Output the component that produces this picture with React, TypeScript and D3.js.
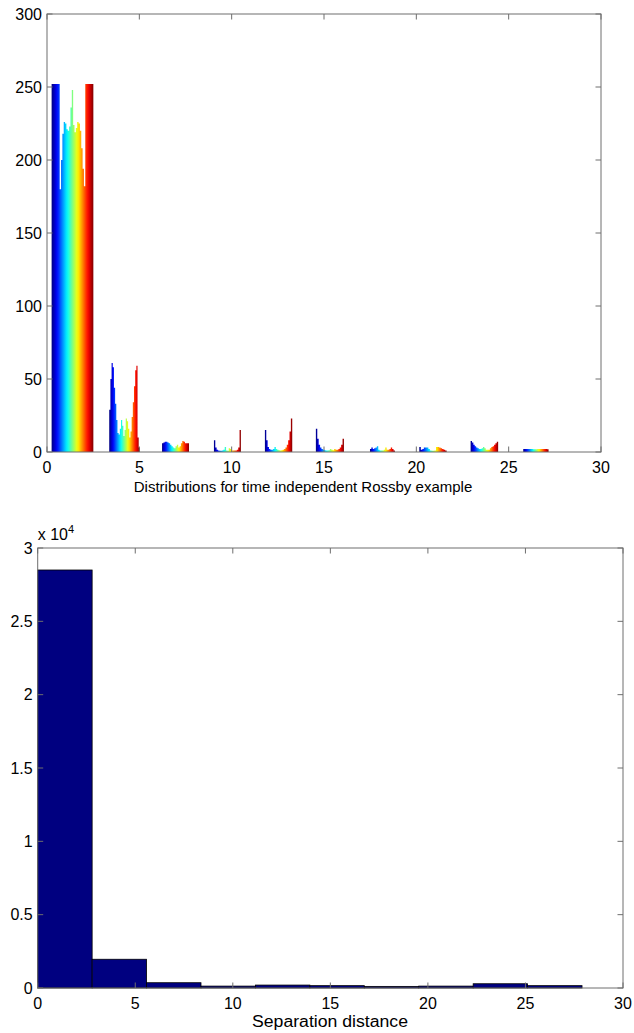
import React from "react";
import * as d3 from "d3";

// top panel: one coloured distribution per separation band
const clusterStarts = [0.25, 3.37, 6.23, 9.04, 11.8, 14.56, 17.49, 20.16, 22.94, 25.79];
const clusterEnds = [2.51, 5.03, 7.69, 10.5, 13.28, 16.08, 18.84, 21.64, 24.43, 27.16];
const band1 = [252, 252, 252, 252, 252, 252, 180, 200, 218, 226, 225, 221, 220, 223, 236, 248, 224, 219, 222, 226, 225, 220, 208, 194, 182, 252, 252, 252, 252, 252, 252];
const band2 = [29, 50, 61, 58, 44, 33, 22, 13, 12, 16, 22, 18, 11, 15, 23, 21, 16, 10, 14, 24, 34, 45, 56, 59, 10, 3];
const band3 = [6, 6.5, 7, 7, 6.5, 6, 5, 4, 3, 2.5, 4, 5, 3, 4, 6, 7.5, 7, 6, 6, 6];
const band4 = [8, 3, 1.5, 1, 0.8, 0.8, 1, 1.5, 3.5, 1, 0.8, 2.5, 2, 1, 1, 1, 1, 1.5, 3, 15];
const band5 = [15, 8, 3.5, 2, 1.5, 1.5, 2, 3.5, 2, 1.5, 1.2, 1, 1.2, 1.5, 2, 3, 5, 8, 14, 23];
const band6 = [16, 9, 5, 3, 2, 1.5, 1.2, 1, 1, 1.2, 2, 1.5, 1.2, 2, 1.5, 1.5, 2, 3, 5, 9];
const band7 = [2, 3, 2, 2.5, 3, 4, 1.5, 1, 1, 1, 1.5, 3, 1.5, 1.5, 2, 3, 2, 1];
const band8 = [3.5, 1.5, 2, 3, 3, 3, 2, 1, 0.8, 0.8, 1, 3.5, 3.5, 3, 2.5, 2, 1.5, 1];
const band9 = [7.5, 6.5, 5, 4, 3, 2.5, 2, 2, 2.5, 3.5, 2.5, 1.5, 1.5, 1.5, 2.5, 3.5, 4, 5, 6, 7];
const band10 = [2, 2, 2, 2, 2, 2, 2, 1.8, 1.8, 1.8, 2, 2, 2, 2, 2, 2, 2, 1.8];
const bands = [band1, band2, band3, band4, band5, band6, band7, band8, band9, band10];
const topXTicks = [0, 5, 10, 15, 20, 25, 30];
const topYTicks = [0, 50, 100, 150, 200, 250, 300];

// bottom panel: histogram of separation distance
const binEdges = [0, 2.79, 5.58, 8.37, 11.16, 13.95, 16.74, 19.53, 22.32, 25.11, 27.9];
const binCounts = [28500, 1960, 360, 130, 200, 160, 110, 130, 290, 160];
const botXTicks = [0, 5, 10, 15, 20, 25, 30];
const botYTicks = [0, 0.5, 1, 1.5, 2, 2.5, 3];

const jet = (t: number) => {
  const c = (v: number) => Math.round(255 * Math.max(0, Math.min(1, v)));
  return `rgb(${c(1.5 - Math.abs(4 * t - 3))},${c(1.5 - Math.abs(4 * t - 2))},${c(1.5 - Math.abs(4 * t - 1))})`;
};

const axisColor = "#6e6e6e";
const font = "Liberation Sans, Arial, sans-serif";
const tickLen = 5.5;

type Box = { left: number; right: number; top: number; bottom: number };

const Frame = ({ box, x, y, xTicks, yTicks, yFmt }: any) => (
  <g stroke={axisColor} strokeWidth={1}>
    <rect x={box.left} y={box.top} width={box.right - box.left} height={box.bottom - box.top} fill="none" />
    {xTicks.map((t: number) => (
      <g key={"x" + t}>
        <line x1={x(t)} x2={x(t)} y1={box.bottom} y2={box.bottom - tickLen} />
        <line x1={x(t)} x2={x(t)} y1={box.top} y2={box.top + tickLen} />
      </g>
    ))}
    {yTicks.map((t: number) => (
      <g key={"y" + t}>
        <line x1={box.left} x2={box.left + tickLen} y1={y(t)} y2={y(t)} />
        <line x1={box.right} x2={box.right - tickLen} y1={y(t)} y2={y(t)} />
      </g>
    ))}
    <g stroke="none" fill="#000" fontFamily={font} fontSize={16}>
      {xTicks.map((t: number) => (
        <text key={"xl" + t} x={x(t)} y={box.bottom + 21} textAnchor="middle">{t}</text>
      ))}
      {yTicks.map((t: number) => (
        <text key={"yl" + t} x={box.left - 5} y={y(t) + 5.5} textAnchor="end">{yFmt(t)}</text>
      ))}
    </g>
  </g>
);

const App = () => {
  const topBox: Box = { left: 47, right: 601, top: 14, bottom: 452 };
  const xTop = d3.scaleLinear().domain([0, 30]).range([topBox.left, topBox.right]);
  const yTop = d3.scaleLinear().domain([0, 300]).range([topBox.bottom, topBox.top]);

  const botBox: Box = { left: 37.7, right: 623, top: 548, bottom: 988 };
  const xBot = d3.scaleLinear().domain([0, 30]).range([botBox.left, botBox.right]);
  const yBot = d3.scaleLinear().domain([0, 30000]).range([botBox.bottom, botBox.top]);

  const stops = d3.range(0, 1.0001, 0.05);

  return (
    <svg width={634} height={1033} style={{ position: "absolute", left: 0, top: 0, background: "#fff" }}>
      <defs>
        {bands.map((b, i) => (
          <linearGradient key={i} id={"jet" + i} gradientUnits="userSpaceOnUse"
            x1={xTop(clusterStarts[i])} x2={xTop(clusterEnds[i])} y1={0} y2={0}>
            {stops.map((s) => (
              <stop key={s} offset={s} stopColor={jet(s)} />
            ))}
          </linearGradient>
        ))}
      </defs>

      {bands.map((vals, i) => {
        const step = (clusterEnds[i] - clusterStarts[i]) / vals.length;
        const pts: [number, number][] = [];
        vals.forEach((v, j) => {
          pts.push([clusterStarts[i] + j * step, v]);
          pts.push([clusterStarts[i] + (j + 1) * step, v]);
        });
        const area = d3.area<[number, number]>()
          .x((d) => xTop(d[0]))
          .y0(yTop(0))
          .y1((d) => yTop(d[1]))
          .curve(d3.curveLinear);
        return <path key={i} d={area(pts) || ""} fill={`url(#jet${i})`} />;
      })}

      <Frame box={topBox} x={xTop} y={yTop} xTicks={topXTicks} yTicks={topYTicks} yFmt={(t: number) => t} />
      <text x={303} y={492} textAnchor="middle" fontFamily={font} fontSize={15}>
        Distributions for time independent Rossby example
      </text>

      {binCounts.map((c, i) => (
        <rect key={i} x={xBot(binEdges[i])} y={yBot(c)} width={xBot(binEdges[i + 1]) - xBot(binEdges[i])}
          height={yBot(0) - yBot(c)} fill="#000080" stroke="#000" strokeWidth={0.8} />
      ))}

      <Frame box={botBox} x={xBot} y={yBot} xTicks={botXTicks} yTicks={botYTicks.map((t) => t * 10000)}
        yFmt={(t: number) => d3.format("~g")(t / 10000)} />
      <text x={botBox.left} y={540} fontFamily={font} fontSize={16}>
        x 10<tspan dy={-7} fontSize={11}>4</tspan>
      </text>
      <text x={330} y={1027} textAnchor="middle" fontFamily={font} fontSize={16}
        textLength={156} lengthAdjust="spacingAndGlyphs">
        Separation distance
      </text>
    </svg>
  );
};

export default App;
